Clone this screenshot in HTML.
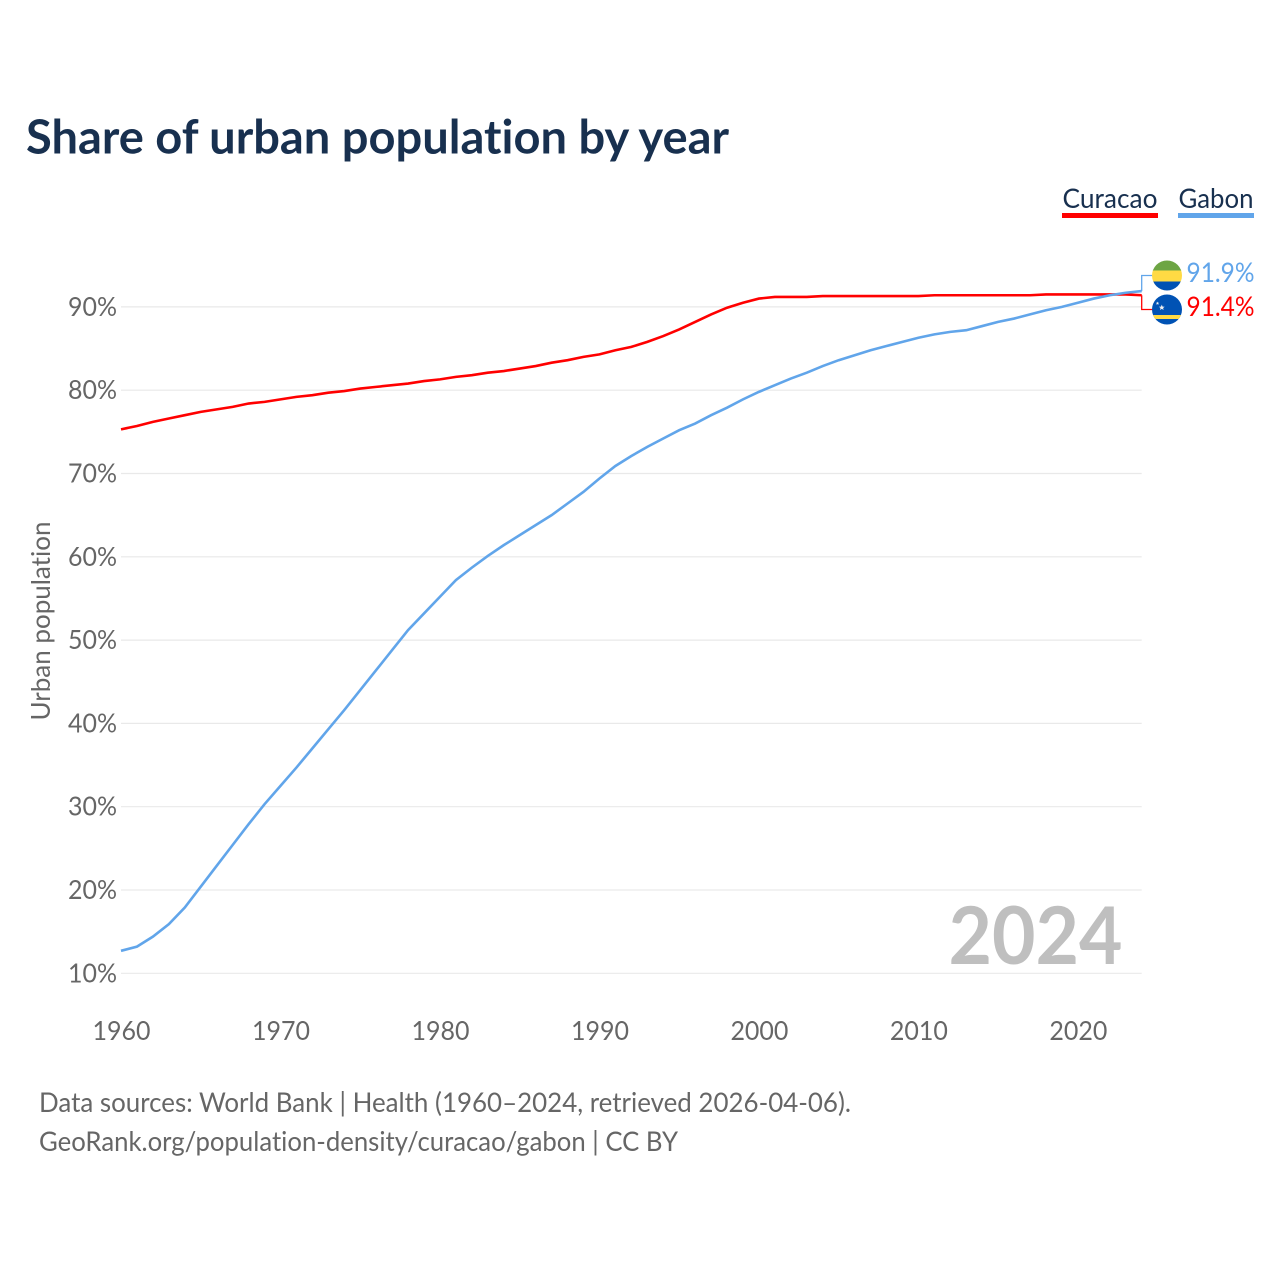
<!DOCTYPE html>
<html lang="en">
<head>
<meta charset="utf-8">
<title>Share of urban population by year</title>
<style>
html,body{margin:0;padding:0;background:#fff;width:1280px;height:1280px;overflow:hidden}
svg{display:block}
text{font-family:"Lato","Carlito","Liberation Sans",sans-serif;font-variant-ligatures:none}
</style>
</head>
<body>
<svg id="chart" xmlns="http://www.w3.org/2000/svg" width="1280" height="1280" viewBox="0 0 1280 1280">
  <defs>
    <clipPath id="clip-top"><circle cx="1167" cy="275.5" r="15"/></clipPath>
    <clipPath id="clip-bottom"><circle cx="1167" cy="309.5" r="15"/></clipPath>
  </defs>

  <text x="26" y="153.5" font-size="47" font-weight="700" fill="#18304f" textLength="703" lengthAdjust="spacingAndGlyphs">Share of urban population by year</text>

  <g>
    <g>
      <text x="1062.5" y="208" font-size="27" fill="#18304f" textLength="95" lengthAdjust="spacingAndGlyphs">Curacao</text>
      <rect x="1062" y="213" width="96" height="5" fill="#ff0000"/>
    </g>
    <g>
      <text x="1178.5" y="208" font-size="27" fill="#18304f" textLength="75" lengthAdjust="spacingAndGlyphs">Gabon</text>
      <rect x="1178" y="213" width="76" height="5" fill="#61a5ea"/>
    </g>
  </g>

  <g id="grid"></g>
  <g id="y-ticks"></g>
  <g id="x-ticks"></g>

  <text transform="translate(50 621) rotate(-90)" text-anchor="middle" font-size="26" fill="#666666" textLength="199" lengthAdjust="spacingAndGlyphs">Urban population</text>

  <text x="948.5" y="964" font-size="80" font-weight="700" fill="#bfbfbf" textLength="174" lengthAdjust="spacingAndGlyphs">2024</text>

  <g id="series"></g>
  <g id="connectors"></g>

  <g clip-path="url(#clip-top)">
    <rect x="1152" y="260" width="30" height="11" fill="#6da544"/>
    <rect x="1152" y="270.5" width="30" height="11" fill="#ffda44"/>
    <rect x="1152" y="281.5" width="30" height="10" fill="#0052b4"/>
  </g>
  <g clip-path="url(#clip-bottom)">
    <rect x="1152" y="294" width="30" height="31" fill="#0052b4"/>
    <rect x="1152" y="315" width="30" height="4" fill="#ffda44"/>
    <polygon fill="#f0f0f0" points="1161.8,304.6 1162.6,306.6 1164.7,306.7 1163.1,308 1163.6,310 1161.8,308.9 1160,310 1160.5,308 1158.9,306.7 1161,306.6"/>
    <polygon fill="#f0f0f0" points="1157.5,301.6 1158,302.7 1159.2,302.8 1158.3,303.5 1158.6,304.7 1157.5,304.1 1156.4,304.7 1156.7,303.5 1155.8,302.8 1157,302.7"/>
  </g>

  <text id="value-gabon" x="1186.5" y="282" font-size="27" fill="#61a5ea" textLength="68" lengthAdjust="spacingAndGlyphs"></text>
  <text id="value-curacao" x="1186.5" y="316" font-size="27" fill="#ff0000" textLength="68" lengthAdjust="spacingAndGlyphs"></text>

  <text x="39" y="1112" font-size="27.5" fill="#666666" textLength="812" lengthAdjust="spacingAndGlyphs">Data sources: World Bank | Health (1960–2024, retrieved 2026-04-06).</text>
  <text x="39" y="1151" font-size="27.5" fill="#666666" textLength="639" lengthAdjust="spacingAndGlyphs">GeoRank.org/population-density/curacao/gabon | CC BY</text>
</svg>

<script>
const years = [1960,1961,1962,1963,1964,1965,1966,1967,1968,1969,1970,1971,1972,1973,1974,1975,1976,1977,1978,1979,1980,1981,1982,1983,1984,1985,1986,1987,1988,1989,1990,1991,1992,1993,1994,1995,1996,1997,1998,1999,2000,2001,2002,2003,2004,2005,2006,2007,2008,2009,2010,2011,2012,2013,2014,2015,2016,2017,2018,2019,2020,2021,2022,2023,2024];
const curacaoValues = [75.3,75.7,76.2,76.6,77.0,77.4,77.7,78.0,78.4,78.6,78.9,79.2,79.4,79.7,79.9,80.2,80.4,80.6,80.8,81.1,81.3,81.6,81.8,82.1,82.3,82.6,82.9,83.3,83.6,84.0,84.3,84.8,85.2,85.8,86.5,87.3,88.2,89.1,89.9,90.5,91.0,91.2,91.2,91.2,91.3,91.3,91.3,91.3,91.3,91.3,91.3,91.4,91.4,91.4,91.4,91.4,91.4,91.4,91.5,91.5,91.5,91.5,91.5,91.5,91.4];
const gabonValues = [12.7,13.2,14.4,15.9,17.9,20.4,22.9,25.4,27.9,30.3,32.5,34.7,37.0,39.3,41.6,44.0,46.4,48.8,51.2,53.2,55.2,57.2,58.7,60.1,61.4,62.6,63.8,65.0,66.4,67.8,69.4,70.9,72.1,73.2,74.2,75.2,76.0,77.0,77.9,78.9,79.8,80.6,81.4,82.1,82.9,83.6,84.2,84.8,85.3,85.8,86.3,86.7,87.0,87.2,87.7,88.2,88.6,89.1,89.6,90.0,90.5,91.0,91.4,91.7,91.9];
const yTicks = [10,20,30,40,50,60,70,80,90];
const xTicks = [1960,1970,1980,1990,2000,2010,2020];
const curacaoEndLabel = "91.4%";
const gabonEndLabel = "91.9%";

const SVG_NS = "http://www.w3.org/2000/svg";
const xScale = function (year) { return 121 + (year - 1960) * (1141.7 - 121) / 64; };
const yScale = function (pct) { return 973.3 - (pct - 10) * (973.3 - 306.9) / 80; };

function make(tag, parent) {
  const el = document.createElementNS(SVG_NS, tag);
  parent.appendChild(el);
  return el;
}

const gridGroup = document.getElementById("grid");
const yTickGroup = document.getElementById("y-ticks");
yTicks.forEach(function (t) {
  const line = make("line", gridGroup);
  
  
  line.setAttribute("x1", 121);
  line.setAttribute("x2", 1141.7);
  line.setAttribute("y1", yScale(t));
  line.setAttribute("y2", yScale(t));
  line.setAttribute("stroke", "#e9e9e9");
  line.setAttribute("stroke-width", "1.2");

  const label = make("text", yTickGroup);
  
  
  label.setAttribute("x", 117);
  label.setAttribute("y", yScale(t) + 9);
  label.setAttribute("text-anchor", "end");
  label.setAttribute("font-size", "26");
  label.setAttribute("fill", "#666666");
  label.setAttribute("textLength", "49");
  label.setAttribute("lengthAdjust", "spacingAndGlyphs");
  label.textContent = t + "%";
});

const xTickGroup = document.getElementById("x-ticks");
xTicks.forEach(function (t) {
  const label = make("text", xTickGroup);
  
  
  label.setAttribute("x", xScale(t) + 0.5);
  label.setAttribute("y", 1040);
  label.setAttribute("text-anchor", "middle");
  label.setAttribute("font-size", "26");
  label.setAttribute("fill", "#666666");
  label.setAttribute("textLength", "58");
  label.setAttribute("lengthAdjust", "spacingAndGlyphs");
  label.textContent = t;
});

function pathFor(values) {
  return values.map(function (v, i) {
    return (i === 0 ? "M" : "L") + xScale(years[i]).toFixed(2) + " " + yScale(v).toFixed(2);
  }).join(" ");
}

const seriesGroup = document.getElementById("series");

const curacaoLine = make("path", seriesGroup);


curacaoLine.setAttribute("d", pathFor(curacaoValues));
curacaoLine.setAttribute("fill", "none");
curacaoLine.setAttribute("stroke", "#ff0000");
curacaoLine.setAttribute("stroke-width", "2.6");

const gabonLine = make("path", seriesGroup);


gabonLine.setAttribute("d", pathFor(gabonValues));
gabonLine.setAttribute("fill", "none");
gabonLine.setAttribute("stroke", "#61a5ea");
gabonLine.setAttribute("stroke-width", "2.6");

const connectorGroup = document.getElementById("connectors");
const endX = xScale(years[years.length - 1]);

const curacaoConnector = make("path", connectorGroup);


curacaoConnector.setAttribute("d", "M" + endX + " " + yScale(curacaoValues[curacaoValues.length - 1]) + " V309.5 H1153");
curacaoConnector.setAttribute("fill", "none");
curacaoConnector.setAttribute("stroke", "#ff0000");
curacaoConnector.setAttribute("stroke-width", "1.3");

const gabonConnector = make("path", connectorGroup);


gabonConnector.setAttribute("d", "M" + endX + " " + yScale(gabonValues[gabonValues.length - 1]) + " V275.5 H1153");
gabonConnector.setAttribute("fill", "none");
gabonConnector.setAttribute("stroke", "#61a5ea");
gabonConnector.setAttribute("stroke-width", "1.3");

document.getElementById("value-gabon").textContent = gabonEndLabel;
document.getElementById("value-curacao").textContent = curacaoEndLabel;
</script>
</body>
</html>
